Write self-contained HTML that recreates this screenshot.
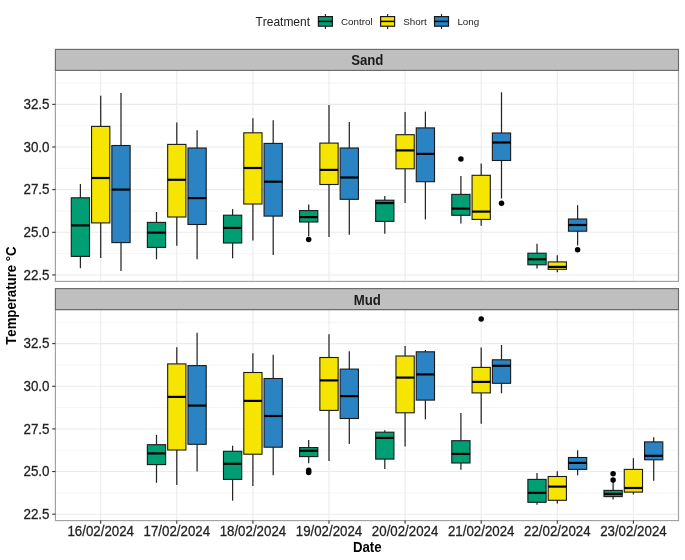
<!DOCTYPE html>
<html><head><meta charset="utf-8"><title>Temperature boxplot</title>
<style>
html,body{margin:0;padding:0;background:#fff;}
body{width:685px;height:560px;overflow:hidden;font-family:"Liberation Sans", sans-serif;}
svg{display:block;will-change:transform;} text{font-kerning:none;font-feature-settings:"kern" 0;}
</style></head>
<body>
<svg width="685" height="560" viewBox="0 0 685 560" font-family='"Liberation Sans", sans-serif'>
<rect width="685" height="560" fill="#fff"/>
<line x1="55.4" x2="678.5" y1="253.61" y2="253.61" stroke="#EBEBEB" stroke-width="0.55"/>
<line x1="55.4" x2="678.5" y1="210.97" y2="210.97" stroke="#EBEBEB" stroke-width="0.55"/>
<line x1="55.4" x2="678.5" y1="168.32" y2="168.32" stroke="#EBEBEB" stroke-width="0.55"/>
<line x1="55.4" x2="678.5" y1="125.68" y2="125.68" stroke="#EBEBEB" stroke-width="0.55"/>
<line x1="55.4" x2="678.5" y1="83.04" y2="83.04" stroke="#EBEBEB" stroke-width="0.55"/>
<line x1="55.4" x2="678.5" y1="274.93" y2="274.93" stroke="#EBEBEB" stroke-width="1.07"/>
<line x1="55.4" x2="678.5" y1="232.29" y2="232.29" stroke="#EBEBEB" stroke-width="1.07"/>
<line x1="55.4" x2="678.5" y1="189.65" y2="189.65" stroke="#EBEBEB" stroke-width="1.07"/>
<line x1="55.4" x2="678.5" y1="147" y2="147" stroke="#EBEBEB" stroke-width="1.07"/>
<line x1="55.4" x2="678.5" y1="104.36" y2="104.36" stroke="#EBEBEB" stroke-width="1.07"/>
<line x1="100.7" x2="100.7" y1="70.4" y2="281.4" stroke="#EBEBEB" stroke-width="1.07"/>
<line x1="176.8" x2="176.8" y1="70.4" y2="281.4" stroke="#EBEBEB" stroke-width="1.07"/>
<line x1="252.9" x2="252.9" y1="70.4" y2="281.4" stroke="#EBEBEB" stroke-width="1.07"/>
<line x1="329" x2="329" y1="70.4" y2="281.4" stroke="#EBEBEB" stroke-width="1.07"/>
<line x1="405.1" x2="405.1" y1="70.4" y2="281.4" stroke="#EBEBEB" stroke-width="1.07"/>
<line x1="481.2" x2="481.2" y1="70.4" y2="281.4" stroke="#EBEBEB" stroke-width="1.07"/>
<line x1="557.3" x2="557.3" y1="70.4" y2="281.4" stroke="#EBEBEB" stroke-width="1.07"/>
<line x1="633.4" x2="633.4" y1="70.4" y2="281.4" stroke="#EBEBEB" stroke-width="1.07"/>
<line x1="80.4" x2="80.4" y1="184" y2="197.8" stroke="#262626" stroke-width="1.25"/>
<line x1="80.4" x2="80.4" y1="256.4" y2="268.2" stroke="#262626" stroke-width="1.25"/>
<rect x="71.27" y="197.8" width="18.26" height="58.6" fill="#009E73" stroke="#1A1A1A" stroke-width="1.1"/>
<line x1="71.27" x2="89.54" y1="225.4" y2="225.4" stroke="#000" stroke-width="2.2"/>
<line x1="100.7" x2="100.7" y1="95.7" y2="126.4" stroke="#262626" stroke-width="1.25"/>
<line x1="100.7" x2="100.7" y1="222.9" y2="258" stroke="#262626" stroke-width="1.25"/>
<rect x="91.57" y="126.4" width="18.26" height="96.5" fill="#F6E500" stroke="#1A1A1A" stroke-width="1.1"/>
<line x1="91.57" x2="109.83" y1="178" y2="178" stroke="#000" stroke-width="2.2"/>
<line x1="121" x2="121" y1="93.1" y2="145.5" stroke="#262626" stroke-width="1.25"/>
<line x1="121" x2="121" y1="242.6" y2="271" stroke="#262626" stroke-width="1.25"/>
<rect x="111.86" y="145.5" width="18.26" height="97.1" fill="#2A84C4" stroke="#1A1A1A" stroke-width="1.1"/>
<line x1="111.86" x2="130.13" y1="189.6" y2="189.6" stroke="#000" stroke-width="2.2"/>
<line x1="156.5" x2="156.5" y1="212" y2="222.4" stroke="#262626" stroke-width="1.25"/>
<line x1="156.5" x2="156.5" y1="247.4" y2="259.3" stroke="#262626" stroke-width="1.25"/>
<rect x="147.37" y="222.4" width="18.26" height="25" fill="#009E73" stroke="#1A1A1A" stroke-width="1.1"/>
<line x1="147.37" x2="165.64" y1="232.6" y2="232.6" stroke="#000" stroke-width="2.2"/>
<line x1="176.8" x2="176.8" y1="122.4" y2="144.4" stroke="#262626" stroke-width="1.25"/>
<line x1="176.8" x2="176.8" y1="217" y2="245.7" stroke="#262626" stroke-width="1.25"/>
<rect x="167.67" y="144.4" width="18.26" height="72.6" fill="#F6E500" stroke="#1A1A1A" stroke-width="1.1"/>
<line x1="167.67" x2="185.93" y1="179.8" y2="179.8" stroke="#000" stroke-width="2.2"/>
<line x1="197.1" x2="197.1" y1="130.2" y2="148" stroke="#262626" stroke-width="1.25"/>
<line x1="197.1" x2="197.1" y1="224.5" y2="259.3" stroke="#262626" stroke-width="1.25"/>
<rect x="187.96" y="148" width="18.26" height="76.5" fill="#2A84C4" stroke="#1A1A1A" stroke-width="1.1"/>
<line x1="187.96" x2="206.23" y1="198.1" y2="198.1" stroke="#000" stroke-width="2.2"/>
<line x1="232.6" x2="232.6" y1="209.1" y2="215.2" stroke="#262626" stroke-width="1.25"/>
<line x1="232.6" x2="232.6" y1="243" y2="258.3" stroke="#262626" stroke-width="1.25"/>
<rect x="223.47" y="215.2" width="18.26" height="27.8" fill="#009E73" stroke="#1A1A1A" stroke-width="1.1"/>
<line x1="223.47" x2="241.74" y1="227.9" y2="227.9" stroke="#000" stroke-width="2.2"/>
<line x1="252.9" x2="252.9" y1="118.3" y2="132.8" stroke="#262626" stroke-width="1.25"/>
<line x1="252.9" x2="252.9" y1="204" y2="240.4" stroke="#262626" stroke-width="1.25"/>
<rect x="243.77" y="132.8" width="18.26" height="71.2" fill="#F6E500" stroke="#1A1A1A" stroke-width="1.1"/>
<line x1="243.77" x2="262.03" y1="168" y2="168" stroke="#000" stroke-width="2.2"/>
<line x1="273.2" x2="273.2" y1="120.2" y2="143.4" stroke="#262626" stroke-width="1.25"/>
<line x1="273.2" x2="273.2" y1="216.1" y2="255.1" stroke="#262626" stroke-width="1.25"/>
<rect x="264.06" y="143.4" width="18.26" height="72.7" fill="#2A84C4" stroke="#1A1A1A" stroke-width="1.1"/>
<line x1="264.06" x2="282.33" y1="181.7" y2="181.7" stroke="#000" stroke-width="2.2"/>
<line x1="308.7" x2="308.7" y1="204.4" y2="210.6" stroke="#262626" stroke-width="1.25"/>
<line x1="308.7" x2="308.7" y1="222" y2="236.2" stroke="#262626" stroke-width="1.25"/>
<rect x="299.57" y="210.6" width="18.26" height="11.4" fill="#009E73" stroke="#1A1A1A" stroke-width="1.1"/>
<line x1="299.57" x2="317.84" y1="217.1" y2="217.1" stroke="#000" stroke-width="2.2"/>
<circle cx="308.7" cy="239.6" r="2.75" fill="#000"/>
<line x1="329" x2="329" y1="105" y2="143.1" stroke="#262626" stroke-width="1.25"/>
<line x1="329" x2="329" y1="184.5" y2="237" stroke="#262626" stroke-width="1.25"/>
<rect x="319.87" y="143.1" width="18.26" height="41.4" fill="#F6E500" stroke="#1A1A1A" stroke-width="1.1"/>
<line x1="319.87" x2="338.13" y1="169.9" y2="169.9" stroke="#000" stroke-width="2.2"/>
<line x1="349.3" x2="349.3" y1="122" y2="148" stroke="#262626" stroke-width="1.25"/>
<line x1="349.3" x2="349.3" y1="199.3" y2="234.7" stroke="#262626" stroke-width="1.25"/>
<rect x="340.16" y="148" width="18.26" height="51.3" fill="#2A84C4" stroke="#1A1A1A" stroke-width="1.1"/>
<line x1="340.16" x2="358.43" y1="177.5" y2="177.5" stroke="#000" stroke-width="2.2"/>
<line x1="384.8" x2="384.8" y1="195.9" y2="200.2" stroke="#262626" stroke-width="1.25"/>
<line x1="384.8" x2="384.8" y1="221.4" y2="233.7" stroke="#262626" stroke-width="1.25"/>
<rect x="375.67" y="200.2" width="18.26" height="21.2" fill="#009E73" stroke="#1A1A1A" stroke-width="1.1"/>
<line x1="375.67" x2="393.94" y1="203.1" y2="203.1" stroke="#000" stroke-width="2.2"/>
<line x1="405.1" x2="405.1" y1="112" y2="134.7" stroke="#262626" stroke-width="1.25"/>
<line x1="405.1" x2="405.1" y1="168.8" y2="202.9" stroke="#262626" stroke-width="1.25"/>
<rect x="395.97" y="134.7" width="18.26" height="34.1" fill="#F6E500" stroke="#1A1A1A" stroke-width="1.1"/>
<line x1="395.97" x2="414.23" y1="150.4" y2="150.4" stroke="#000" stroke-width="2.2"/>
<line x1="425.4" x2="425.4" y1="111.6" y2="127.9" stroke="#262626" stroke-width="1.25"/>
<line x1="425.4" x2="425.4" y1="181.7" y2="219.5" stroke="#262626" stroke-width="1.25"/>
<rect x="416.26" y="127.9" width="18.26" height="53.8" fill="#2A84C4" stroke="#1A1A1A" stroke-width="1.1"/>
<line x1="416.26" x2="434.53" y1="153.9" y2="153.9" stroke="#000" stroke-width="2.2"/>
<line x1="460.9" x2="460.9" y1="176.1" y2="194.4" stroke="#262626" stroke-width="1.25"/>
<line x1="460.9" x2="460.9" y1="215.3" y2="223.4" stroke="#262626" stroke-width="1.25"/>
<rect x="451.77" y="194.4" width="18.26" height="20.9" fill="#009E73" stroke="#1A1A1A" stroke-width="1.1"/>
<line x1="451.77" x2="470.04" y1="208.6" y2="208.6" stroke="#000" stroke-width="2.2"/>
<circle cx="460.9" cy="158.9" r="2.75" fill="#000"/>
<line x1="481.2" x2="481.2" y1="163.4" y2="175.3" stroke="#262626" stroke-width="1.25"/>
<line x1="481.2" x2="481.2" y1="219.4" y2="225.7" stroke="#262626" stroke-width="1.25"/>
<rect x="472.07" y="175.3" width="18.26" height="44.1" fill="#F6E500" stroke="#1A1A1A" stroke-width="1.1"/>
<line x1="472.07" x2="490.33" y1="211.6" y2="211.6" stroke="#000" stroke-width="2.2"/>
<line x1="501.5" x2="501.5" y1="92.3" y2="133" stroke="#262626" stroke-width="1.25"/>
<line x1="501.5" x2="501.5" y1="160.5" y2="198.5" stroke="#262626" stroke-width="1.25"/>
<rect x="492.36" y="133" width="18.26" height="27.5" fill="#2A84C4" stroke="#1A1A1A" stroke-width="1.1"/>
<line x1="492.36" x2="510.63" y1="142.5" y2="142.5" stroke="#000" stroke-width="2.2"/>
<circle cx="501.5" cy="203.3" r="2.75" fill="#000"/>
<line x1="537" x2="537" y1="243.7" y2="253.2" stroke="#262626" stroke-width="1.25"/>
<line x1="537" x2="537" y1="264.8" y2="268.6" stroke="#262626" stroke-width="1.25"/>
<rect x="527.87" y="253.2" width="18.26" height="11.6" fill="#009E73" stroke="#1A1A1A" stroke-width="1.1"/>
<line x1="527.87" x2="546.14" y1="259.3" y2="259.3" stroke="#000" stroke-width="2.2"/>
<line x1="557.3" x2="557.3" y1="255.2" y2="261.9" stroke="#262626" stroke-width="1.25"/>
<line x1="557.3" x2="557.3" y1="269.3" y2="272.2" stroke="#262626" stroke-width="1.25"/>
<rect x="548.17" y="261.9" width="18.26" height="7.4" fill="#F6E500" stroke="#1A1A1A" stroke-width="1.1"/>
<line x1="548.17" x2="566.43" y1="266.9" y2="266.9" stroke="#000" stroke-width="2.2"/>
<line x1="577.6" x2="577.6" y1="205.2" y2="219" stroke="#262626" stroke-width="1.25"/>
<line x1="577.6" x2="577.6" y1="231.2" y2="245.5" stroke="#262626" stroke-width="1.25"/>
<rect x="568.46" y="219" width="18.26" height="12.2" fill="#2A84C4" stroke="#1A1A1A" stroke-width="1.1"/>
<line x1="568.46" x2="586.73" y1="225" y2="225" stroke="#000" stroke-width="2.2"/>
<circle cx="577.6" cy="249.8" r="2.75" fill="#000"/>
<rect x="55.4" y="70.4" width="623.1" height="211" fill="none" stroke="#A0A0A0" stroke-width="1.15"/>
<rect x="55.4" y="49.4" width="623.1" height="21" fill="#BFBFBF" stroke="#6A6A6A" stroke-width="1.15"/>
<text transform="translate(367.25 65.3) scale(1 1.05)" text-anchor="middle" font-size="13.2" font-weight="bold" fill="#1A1A1A">Sand</text>
<line x1="52.2" x2="55.4" y1="274.93" y2="274.93" stroke="#333333" stroke-width="1.07"/>
<text transform="translate(49.5 279.53) scale(1 1.05)" text-anchor="end" font-size="13.4" fill="#222222" stroke="#222222" stroke-width="0.25">22.5</text>
<line x1="52.2" x2="55.4" y1="232.29" y2="232.29" stroke="#333333" stroke-width="1.07"/>
<text transform="translate(49.5 236.89) scale(1 1.05)" text-anchor="end" font-size="13.4" fill="#222222" stroke="#222222" stroke-width="0.25">25.0</text>
<line x1="52.2" x2="55.4" y1="189.65" y2="189.65" stroke="#333333" stroke-width="1.07"/>
<text transform="translate(49.5 194.25) scale(1 1.05)" text-anchor="end" font-size="13.4" fill="#222222" stroke="#222222" stroke-width="0.25">27.5</text>
<line x1="52.2" x2="55.4" y1="147" y2="147" stroke="#333333" stroke-width="1.07"/>
<text transform="translate(49.5 151.6) scale(1 1.05)" text-anchor="end" font-size="13.4" fill="#222222" stroke="#222222" stroke-width="0.25">30.0</text>
<line x1="52.2" x2="55.4" y1="104.36" y2="104.36" stroke="#333333" stroke-width="1.07"/>
<text transform="translate(49.5 108.96) scale(1 1.05)" text-anchor="end" font-size="13.4" fill="#222222" stroke="#222222" stroke-width="0.25">32.5</text>
<line x1="55.4" x2="678.5" y1="492.88" y2="492.88" stroke="#EBEBEB" stroke-width="0.55"/>
<line x1="55.4" x2="678.5" y1="450.24" y2="450.24" stroke="#EBEBEB" stroke-width="0.55"/>
<line x1="55.4" x2="678.5" y1="407.59" y2="407.59" stroke="#EBEBEB" stroke-width="0.55"/>
<line x1="55.4" x2="678.5" y1="364.95" y2="364.95" stroke="#EBEBEB" stroke-width="0.55"/>
<line x1="55.4" x2="678.5" y1="322.31" y2="322.31" stroke="#EBEBEB" stroke-width="0.55"/>
<line x1="55.4" x2="678.5" y1="514.2" y2="514.2" stroke="#EBEBEB" stroke-width="1.07"/>
<line x1="55.4" x2="678.5" y1="471.56" y2="471.56" stroke="#EBEBEB" stroke-width="1.07"/>
<line x1="55.4" x2="678.5" y1="428.92" y2="428.92" stroke="#EBEBEB" stroke-width="1.07"/>
<line x1="55.4" x2="678.5" y1="386.27" y2="386.27" stroke="#EBEBEB" stroke-width="1.07"/>
<line x1="55.4" x2="678.5" y1="343.63" y2="343.63" stroke="#EBEBEB" stroke-width="1.07"/>
<line x1="100.7" x2="100.7" y1="309.6" y2="520.6" stroke="#EBEBEB" stroke-width="1.07"/>
<line x1="176.8" x2="176.8" y1="309.6" y2="520.6" stroke="#EBEBEB" stroke-width="1.07"/>
<line x1="252.9" x2="252.9" y1="309.6" y2="520.6" stroke="#EBEBEB" stroke-width="1.07"/>
<line x1="329" x2="329" y1="309.6" y2="520.6" stroke="#EBEBEB" stroke-width="1.07"/>
<line x1="405.1" x2="405.1" y1="309.6" y2="520.6" stroke="#EBEBEB" stroke-width="1.07"/>
<line x1="481.2" x2="481.2" y1="309.6" y2="520.6" stroke="#EBEBEB" stroke-width="1.07"/>
<line x1="557.3" x2="557.3" y1="309.6" y2="520.6" stroke="#EBEBEB" stroke-width="1.07"/>
<line x1="633.4" x2="633.4" y1="309.6" y2="520.6" stroke="#EBEBEB" stroke-width="1.07"/>
<line x1="156.5" x2="156.5" y1="434.9" y2="444.7" stroke="#262626" stroke-width="1.25"/>
<line x1="156.5" x2="156.5" y1="464.6" y2="482.8" stroke="#262626" stroke-width="1.25"/>
<rect x="147.37" y="444.7" width="18.26" height="19.9" fill="#009E73" stroke="#1A1A1A" stroke-width="1.1"/>
<line x1="147.37" x2="165.64" y1="453.4" y2="453.4" stroke="#000" stroke-width="2.2"/>
<line x1="176.8" x2="176.8" y1="347.3" y2="363.9" stroke="#262626" stroke-width="1.25"/>
<line x1="176.8" x2="176.8" y1="450" y2="485" stroke="#262626" stroke-width="1.25"/>
<rect x="167.67" y="363.9" width="18.26" height="86.1" fill="#F6E500" stroke="#1A1A1A" stroke-width="1.1"/>
<line x1="167.67" x2="185.93" y1="396.9" y2="396.9" stroke="#000" stroke-width="2.2"/>
<line x1="197.1" x2="197.1" y1="332.7" y2="365.6" stroke="#262626" stroke-width="1.25"/>
<line x1="197.1" x2="197.1" y1="444.3" y2="471.4" stroke="#262626" stroke-width="1.25"/>
<rect x="187.96" y="365.6" width="18.26" height="78.7" fill="#2A84C4" stroke="#1A1A1A" stroke-width="1.1"/>
<line x1="187.96" x2="206.23" y1="405.6" y2="405.6" stroke="#000" stroke-width="2.2"/>
<line x1="232.6" x2="232.6" y1="445.7" y2="451.3" stroke="#262626" stroke-width="1.25"/>
<line x1="232.6" x2="232.6" y1="479.4" y2="500.7" stroke="#262626" stroke-width="1.25"/>
<rect x="223.47" y="451.3" width="18.26" height="28.1" fill="#009E73" stroke="#1A1A1A" stroke-width="1.1"/>
<line x1="223.47" x2="241.74" y1="463.8" y2="463.8" stroke="#000" stroke-width="2.2"/>
<line x1="252.9" x2="252.9" y1="353.2" y2="372.5" stroke="#262626" stroke-width="1.25"/>
<line x1="252.9" x2="252.9" y1="454.2" y2="486" stroke="#262626" stroke-width="1.25"/>
<rect x="243.77" y="372.5" width="18.26" height="81.7" fill="#F6E500" stroke="#1A1A1A" stroke-width="1.1"/>
<line x1="243.77" x2="262.03" y1="400.9" y2="400.9" stroke="#000" stroke-width="2.2"/>
<line x1="273.2" x2="273.2" y1="354.7" y2="378.5" stroke="#262626" stroke-width="1.25"/>
<line x1="273.2" x2="273.2" y1="447.2" y2="475.2" stroke="#262626" stroke-width="1.25"/>
<rect x="264.06" y="378.5" width="18.26" height="68.7" fill="#2A84C4" stroke="#1A1A1A" stroke-width="1.1"/>
<line x1="264.06" x2="282.33" y1="416" y2="416" stroke="#000" stroke-width="2.2"/>
<line x1="308.7" x2="308.7" y1="439.9" y2="447.6" stroke="#262626" stroke-width="1.25"/>
<line x1="308.7" x2="308.7" y1="456.6" y2="463.2" stroke="#262626" stroke-width="1.25"/>
<rect x="299.57" y="447.6" width="18.26" height="9" fill="#009E73" stroke="#1A1A1A" stroke-width="1.1"/>
<line x1="299.57" x2="317.84" y1="450.8" y2="450.8" stroke="#000" stroke-width="2.2"/>
<circle cx="308.7" cy="470.3" r="2.75" fill="#000"/>
<circle cx="308.7" cy="472.5" r="2.75" fill="#000"/>
<line x1="329" x2="329" y1="334.2" y2="357.5" stroke="#262626" stroke-width="1.25"/>
<line x1="329" x2="329" y1="410.4" y2="461" stroke="#262626" stroke-width="1.25"/>
<rect x="319.87" y="357.5" width="18.26" height="52.9" fill="#F6E500" stroke="#1A1A1A" stroke-width="1.1"/>
<line x1="319.87" x2="338.13" y1="380.4" y2="380.4" stroke="#000" stroke-width="2.2"/>
<line x1="349.3" x2="349.3" y1="351.3" y2="369.1" stroke="#262626" stroke-width="1.25"/>
<line x1="349.3" x2="349.3" y1="418.5" y2="443.9" stroke="#262626" stroke-width="1.25"/>
<rect x="340.16" y="369.1" width="18.26" height="49.4" fill="#2A84C4" stroke="#1A1A1A" stroke-width="1.1"/>
<line x1="340.16" x2="358.43" y1="396.1" y2="396.1" stroke="#000" stroke-width="2.2"/>
<line x1="384.8" x2="384.8" y1="430.3" y2="432.2" stroke="#262626" stroke-width="1.25"/>
<line x1="384.8" x2="384.8" y1="459.1" y2="469.1" stroke="#262626" stroke-width="1.25"/>
<rect x="375.67" y="432.2" width="18.26" height="26.9" fill="#009E73" stroke="#1A1A1A" stroke-width="1.1"/>
<line x1="375.67" x2="393.94" y1="437.9" y2="437.9" stroke="#000" stroke-width="2.2"/>
<line x1="405.1" x2="405.1" y1="346" y2="356" stroke="#262626" stroke-width="1.25"/>
<line x1="405.1" x2="405.1" y1="412.8" y2="446.4" stroke="#262626" stroke-width="1.25"/>
<rect x="395.97" y="356" width="18.26" height="56.8" fill="#F6E500" stroke="#1A1A1A" stroke-width="1.1"/>
<line x1="395.97" x2="414.23" y1="377.6" y2="377.6" stroke="#000" stroke-width="2.2"/>
<line x1="425.4" x2="425.4" y1="350.1" y2="351.8" stroke="#262626" stroke-width="1.25"/>
<line x1="425.4" x2="425.4" y1="400.1" y2="419.3" stroke="#262626" stroke-width="1.25"/>
<rect x="416.26" y="351.8" width="18.26" height="48.3" fill="#2A84C4" stroke="#1A1A1A" stroke-width="1.1"/>
<line x1="416.26" x2="434.53" y1="374.4" y2="374.4" stroke="#000" stroke-width="2.2"/>
<line x1="460.9" x2="460.9" y1="412.9" y2="440.7" stroke="#262626" stroke-width="1.25"/>
<line x1="460.9" x2="460.9" y1="463" y2="469.7" stroke="#262626" stroke-width="1.25"/>
<rect x="451.77" y="440.7" width="18.26" height="22.3" fill="#009E73" stroke="#1A1A1A" stroke-width="1.1"/>
<line x1="451.77" x2="470.04" y1="453.9" y2="453.9" stroke="#000" stroke-width="2.2"/>
<line x1="481.2" x2="481.2" y1="347.5" y2="367.4" stroke="#262626" stroke-width="1.25"/>
<line x1="481.2" x2="481.2" y1="392.9" y2="423.7" stroke="#262626" stroke-width="1.25"/>
<rect x="472.07" y="367.4" width="18.26" height="25.5" fill="#F6E500" stroke="#1A1A1A" stroke-width="1.1"/>
<line x1="472.07" x2="490.33" y1="381.9" y2="381.9" stroke="#000" stroke-width="2.2"/>
<circle cx="481.2" cy="319.1" r="2.75" fill="#000"/>
<line x1="501.5" x2="501.5" y1="345" y2="359.8" stroke="#262626" stroke-width="1.25"/>
<line x1="501.5" x2="501.5" y1="383.3" y2="393.3" stroke="#262626" stroke-width="1.25"/>
<rect x="492.36" y="359.8" width="18.26" height="23.5" fill="#2A84C4" stroke="#1A1A1A" stroke-width="1.1"/>
<line x1="492.36" x2="510.63" y1="365.8" y2="365.8" stroke="#000" stroke-width="2.2"/>
<line x1="537" x2="537" y1="473.1" y2="479.4" stroke="#262626" stroke-width="1.25"/>
<line x1="537" x2="537" y1="502.3" y2="504.8" stroke="#262626" stroke-width="1.25"/>
<rect x="527.87" y="479.4" width="18.26" height="22.9" fill="#009E73" stroke="#1A1A1A" stroke-width="1.1"/>
<line x1="527.87" x2="546.14" y1="492.9" y2="492.9" stroke="#000" stroke-width="2.2"/>
<line x1="557.3" x2="557.3" y1="471.3" y2="476.5" stroke="#262626" stroke-width="1.25"/>
<line x1="557.3" x2="557.3" y1="500.3" y2="503.5" stroke="#262626" stroke-width="1.25"/>
<rect x="548.17" y="476.5" width="18.26" height="23.8" fill="#F6E500" stroke="#1A1A1A" stroke-width="1.1"/>
<line x1="548.17" x2="566.43" y1="486.6" y2="486.6" stroke="#000" stroke-width="2.2"/>
<line x1="577.6" x2="577.6" y1="450.3" y2="457.5" stroke="#262626" stroke-width="1.25"/>
<line x1="577.6" x2="577.6" y1="469.4" y2="475.4" stroke="#262626" stroke-width="1.25"/>
<rect x="568.46" y="457.5" width="18.26" height="11.9" fill="#2A84C4" stroke="#1A1A1A" stroke-width="1.1"/>
<line x1="568.46" x2="586.73" y1="462.9" y2="462.9" stroke="#000" stroke-width="2.2"/>
<line x1="613.1" x2="613.1" y1="481.5" y2="490.4" stroke="#262626" stroke-width="1.25"/>
<line x1="613.1" x2="613.1" y1="496.6" y2="499.6" stroke="#262626" stroke-width="1.25"/>
<rect x="603.97" y="490.4" width="18.26" height="6.2" fill="#009E73" stroke="#1A1A1A" stroke-width="1.1"/>
<line x1="603.97" x2="622.24" y1="493.9" y2="493.9" stroke="#000" stroke-width="2.2"/>
<circle cx="613.1" cy="473.7" r="2.75" fill="#000"/>
<circle cx="613.1" cy="479.9" r="2.75" fill="#000"/>
<line x1="633.4" x2="633.4" y1="458.2" y2="469.4" stroke="#262626" stroke-width="1.25"/>
<line x1="633.4" x2="633.4" y1="492.1" y2="494.4" stroke="#262626" stroke-width="1.25"/>
<rect x="624.27" y="469.4" width="18.26" height="22.7" fill="#F6E500" stroke="#1A1A1A" stroke-width="1.1"/>
<line x1="624.27" x2="642.53" y1="488" y2="488" stroke="#000" stroke-width="2.2"/>
<line x1="653.7" x2="653.7" y1="437.3" y2="441.9" stroke="#262626" stroke-width="1.25"/>
<line x1="653.7" x2="653.7" y1="459.8" y2="480.7" stroke="#262626" stroke-width="1.25"/>
<rect x="644.56" y="441.9" width="18.26" height="17.9" fill="#2A84C4" stroke="#1A1A1A" stroke-width="1.1"/>
<line x1="644.56" x2="662.83" y1="455.8" y2="455.8" stroke="#000" stroke-width="2.2"/>
<rect x="55.4" y="309.6" width="623.1" height="211" fill="none" stroke="#A0A0A0" stroke-width="1.15"/>
<rect x="55.4" y="288.6" width="623.1" height="21" fill="#BFBFBF" stroke="#6A6A6A" stroke-width="1.15"/>
<text transform="translate(367.25 304.5) scale(1 1.05)" text-anchor="middle" font-size="13.2" font-weight="bold" fill="#1A1A1A">Mud</text>
<line x1="52.2" x2="55.4" y1="514.2" y2="514.2" stroke="#333333" stroke-width="1.07"/>
<text transform="translate(49.5 518.8) scale(1 1.05)" text-anchor="end" font-size="13.4" fill="#222222" stroke="#222222" stroke-width="0.25">22.5</text>
<line x1="52.2" x2="55.4" y1="471.56" y2="471.56" stroke="#333333" stroke-width="1.07"/>
<text transform="translate(49.5 476.16) scale(1 1.05)" text-anchor="end" font-size="13.4" fill="#222222" stroke="#222222" stroke-width="0.25">25.0</text>
<line x1="52.2" x2="55.4" y1="428.92" y2="428.92" stroke="#333333" stroke-width="1.07"/>
<text transform="translate(49.5 433.52) scale(1 1.05)" text-anchor="end" font-size="13.4" fill="#222222" stroke="#222222" stroke-width="0.25">27.5</text>
<line x1="52.2" x2="55.4" y1="386.27" y2="386.27" stroke="#333333" stroke-width="1.07"/>
<text transform="translate(49.5 390.87) scale(1 1.05)" text-anchor="end" font-size="13.4" fill="#222222" stroke="#222222" stroke-width="0.25">30.0</text>
<line x1="52.2" x2="55.4" y1="343.63" y2="343.63" stroke="#333333" stroke-width="1.07"/>
<text transform="translate(49.5 348.23) scale(1 1.05)" text-anchor="end" font-size="13.4" fill="#222222" stroke="#222222" stroke-width="0.25">32.5</text>
<line x1="100.7" x2="100.7" y1="520.6" y2="523.8" stroke="#333333" stroke-width="1.07"/>
<text transform="translate(100.7 536.3) scale(1 1.05)" text-anchor="middle" font-size="13.3" fill="#222222" stroke="#222222" stroke-width="0.25">16/02/2024</text>
<line x1="176.8" x2="176.8" y1="520.6" y2="523.8" stroke="#333333" stroke-width="1.07"/>
<text transform="translate(176.8 536.3) scale(1 1.05)" text-anchor="middle" font-size="13.3" fill="#222222" stroke="#222222" stroke-width="0.25">17/02/2024</text>
<line x1="252.9" x2="252.9" y1="520.6" y2="523.8" stroke="#333333" stroke-width="1.07"/>
<text transform="translate(252.9 536.3) scale(1 1.05)" text-anchor="middle" font-size="13.3" fill="#222222" stroke="#222222" stroke-width="0.25">18/02/2024</text>
<line x1="329" x2="329" y1="520.6" y2="523.8" stroke="#333333" stroke-width="1.07"/>
<text transform="translate(329 536.3) scale(1 1.05)" text-anchor="middle" font-size="13.3" fill="#222222" stroke="#222222" stroke-width="0.25">19/02/2024</text>
<line x1="405.1" x2="405.1" y1="520.6" y2="523.8" stroke="#333333" stroke-width="1.07"/>
<text transform="translate(405.1 536.3) scale(1 1.05)" text-anchor="middle" font-size="13.3" fill="#222222" stroke="#222222" stroke-width="0.25">20/02/2024</text>
<line x1="481.2" x2="481.2" y1="520.6" y2="523.8" stroke="#333333" stroke-width="1.07"/>
<text transform="translate(481.2 536.3) scale(1 1.05)" text-anchor="middle" font-size="13.3" fill="#222222" stroke="#222222" stroke-width="0.25">21/02/2024</text>
<line x1="557.3" x2="557.3" y1="520.6" y2="523.8" stroke="#333333" stroke-width="1.07"/>
<text transform="translate(557.3 536.3) scale(1 1.05)" text-anchor="middle" font-size="13.3" fill="#222222" stroke="#222222" stroke-width="0.25">22/02/2024</text>
<line x1="633.4" x2="633.4" y1="520.6" y2="523.8" stroke="#333333" stroke-width="1.07"/>
<text transform="translate(633.4 536.3) scale(1 1.05)" text-anchor="middle" font-size="13.3" fill="#222222" stroke="#222222" stroke-width="0.25">23/02/2024</text>
<text transform="translate(367.3 551.8) scale(1 1.05)" text-anchor="middle" font-size="13.2" font-weight="bold" fill="#000">Date</text>
<text transform="translate(15.7 295.6) rotate(-90) scale(1 1.05)" text-anchor="middle" font-size="13.2" font-weight="bold" fill="#000">Temperature °C</text>
<text transform="translate(255.4 26) scale(1 1.03)" font-size="12.0" fill="#222">Treatment</text>
<line x1="325.4" x2="325.4" y1="13.9" y2="29" stroke="#1A1A1A" stroke-width="1.1"/>
<rect x="318.4" y="16.6" width="14" height="9.6" fill="#009E73" stroke="#1A1A1A" stroke-width="1.2"/>
<line x1="318.4" x2="332.4" y1="21.4" y2="21.4" stroke="#000" stroke-width="1.5"/>
<text transform="translate(341 25.2)" font-size="9.8" fill="#222">Control</text>
<line x1="387.6" x2="387.6" y1="13.9" y2="29" stroke="#1A1A1A" stroke-width="1.1"/>
<rect x="380.6" y="16.6" width="14" height="9.6" fill="#F6E500" stroke="#1A1A1A" stroke-width="1.2"/>
<line x1="380.6" x2="394.6" y1="21.4" y2="21.4" stroke="#000" stroke-width="1.5"/>
<text transform="translate(403.3 25.2)" font-size="9.8" fill="#222">Short</text>
<line x1="441.5" x2="441.5" y1="13.9" y2="29" stroke="#1A1A1A" stroke-width="1.1"/>
<rect x="434.5" y="16.6" width="14" height="9.6" fill="#2A84C4" stroke="#1A1A1A" stroke-width="1.2"/>
<line x1="434.5" x2="448.5" y1="21.4" y2="21.4" stroke="#000" stroke-width="1.5"/>
<text transform="translate(457.4 25.2)" font-size="9.8" fill="#222">Long</text>
</svg>
</body></html>
